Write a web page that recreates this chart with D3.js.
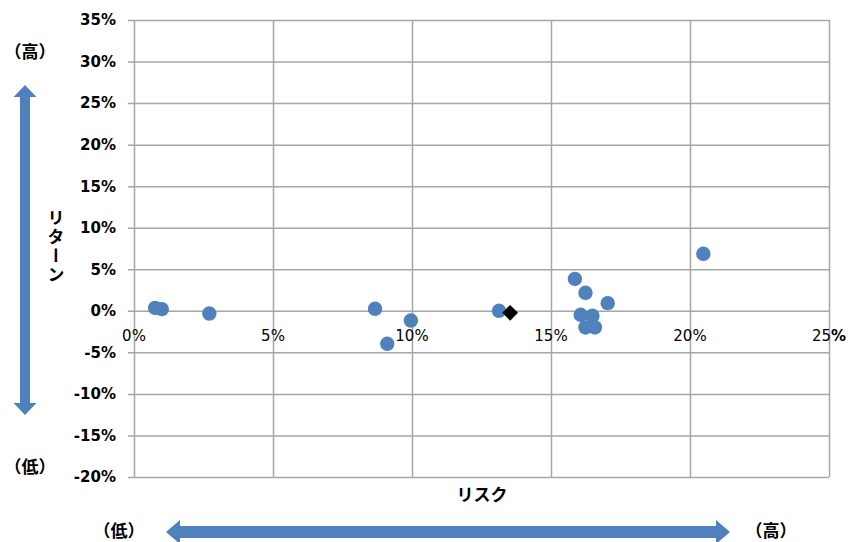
<!DOCTYPE html>
<html>
<head>
<meta charset="utf-8">
<script src="https://cdn.jsdelivr.net/npm/d3@7"></script>
<style>
  body { margin: 0; background: #fff; }
  svg { display: block; }
</style>
</head>
<body>
<svg id="chart" width="851" height="542"></svg>
<script>
// funds: risk (x) and return (y), in %
const fundRisk = [0.76, 1.0, 2.71, 8.67, 9.11, 9.96, 13.13, 15.86, 16.24, 17.04, 16.07, 16.49, 16.24, 16.58, 20.48];
const fundReturn = [0.35, 0.2, -0.33, 0.24, -3.97, -1.17, 0.0, 3.85, 2.17, 0.92, -0.48, -0.6, -2.0, -2.0, 6.86];
// the black diamond
const markRisk = [13.53];
const markReturn = [-0.24];

const xTicks = [0, 5, 10, 15, 20, 25];
const yTicks = [35, 30, 25, 20, 15, 10, 5, 0, -5, -10, -15, -20];

const blue = "#4f81bd";
const grid = "#a6a6a6";
const jp = "'Noto Sans CJK JP', sans-serif";

const svg = d3.select("#chart");
const margin = { top: 20, right: 22, bottom: 65, left: 134 };
const width = 851 - margin.left - margin.right;
const height = 542 - margin.top - margin.bottom;

const x = d3.scaleLinear().domain([0, 25]).range([0, width]);
const y = d3.scaleLinear().domain([-20, 35]).range([height, 0]);

const g = svg.append("g").attr("transform", `translate(${margin.left},${margin.top})`);

// horizontal grid lines with short ticks on the left
g.append("g")
  .call(d3.axisLeft(y).tickValues(yTicks).tickSize(-width).tickSizeOuter(0).tickFormat(""))
  .call((a) => a.select(".domain").remove())
  .call((a) => a.selectAll(".tick line").attr("x1", -6).attr("stroke", grid).attr("stroke-width", 1.5));

// vertical grid lines
g.append("g")
  .attr("transform", `translate(0,${height})`)
  .call(d3.axisBottom(x).tickValues(xTicks).tickSize(-height).tickFormat(""))
  .call((a) => a.select(".domain").remove())
  .call((a) => a.selectAll(".tick line").attr("stroke", grid).attr("stroke-width", 1.5));

// y tick labels
g.append("g")
  .selectAll("text")
  .data(yTicks)
  .join("text")
  .attr("x", -18)
  .attr("y", (d) => y(d))
  .attr("dy", "0.36em")
  .attr("text-anchor", "end")
  .style("font-family", "'DejaVu Sans', sans-serif")
  .style("font-weight", "bold")
  .style("font-size", "15px")
  .text((d) => d + "%");

// x tick labels, sitting under the 0% line (last one has a bold % like the original)
const xl = g.append("g")
  .selectAll("text")
  .data(xTicks)
  .join("text")
  .attr("x", (d) => x(d))
  .attr("y", y(0) + 30)
  .attr("text-anchor", "middle")
  .style("font-family", "'DejaVu Sans', sans-serif")
  .style("font-size", "15px");
xl.append("tspan").text((d) => d);
xl.append("tspan")
  .style("font-weight", (d, i) => (i === xTicks.length - 1 ? "bold" : "normal"))
  .text("%");

// points
g.append("g")
  .selectAll("circle")
  .data(fundRisk.map((r, i) => ({ r, v: fundReturn[i] })))
  .join("circle")
  .attr("cx", (d) => x(d.r))
  .attr("cy", (d) => y(d.v))
  .attr("r", 7.2)
  .attr("fill", blue);

g.append("g")
  .selectAll("path")
  .data(markRisk.map((r, i) => ({ r, v: markReturn[i] })))
  .join("path")
  .attr("d", d3.symbol(d3.symbolSquare, 125))
  .attr("transform", (d) => `translate(${x(d.r)},${y(d.v)}) rotate(45)`)
  .attr("fill", "#000");

// labels
const label = (txt, px, py, size) =>
  svg.append("text")
    .attr("x", px).attr("y", py)
    .attr("text-anchor", "middle")
    .attr("dominant-baseline", "central")
    .style("font-family", jp)
    .style("font-weight", "bold")
    .style("font-size", size + "px")
    .text(txt);

label("（高）", 30, 50, 17);
label("（低）", 30, 465, 17);
label("（低）", 119, 529, 17);
label("（高）", 771, 529, 17);
label("リスク", 482, 493, 17);

svg.append("text")
  .attr("x", 56).attr("y", 209)
  .style("writing-mode", "vertical-rl")
  .style("text-orientation", "upright")
  .style("font-family", jp)
  .style("font-weight", "bold")
  .style("font-size", "17px")
  .style("letter-spacing", "2px")
  .text("リターン");

// arrows
const vArrow = [[25, 85], [36.5, 97], [30, 97], [30, 403], [36.5, 403], [25, 415],
  [13.5, 403], [20, 403], [20, 97], [13.5, 97]];
svg.append("path").attr("d", d3.line()(vArrow) + "Z").attr("fill", blue);

const hArrow = [[166, 532], [180, 520], [180, 526], [716, 526], [716, 520], [730, 532],
  [716, 544], [716, 538], [180, 538], [180, 544]];
svg.append("path").attr("d", d3.line()(hArrow) + "Z").attr("fill", blue);
</script>
</body>
</html>
